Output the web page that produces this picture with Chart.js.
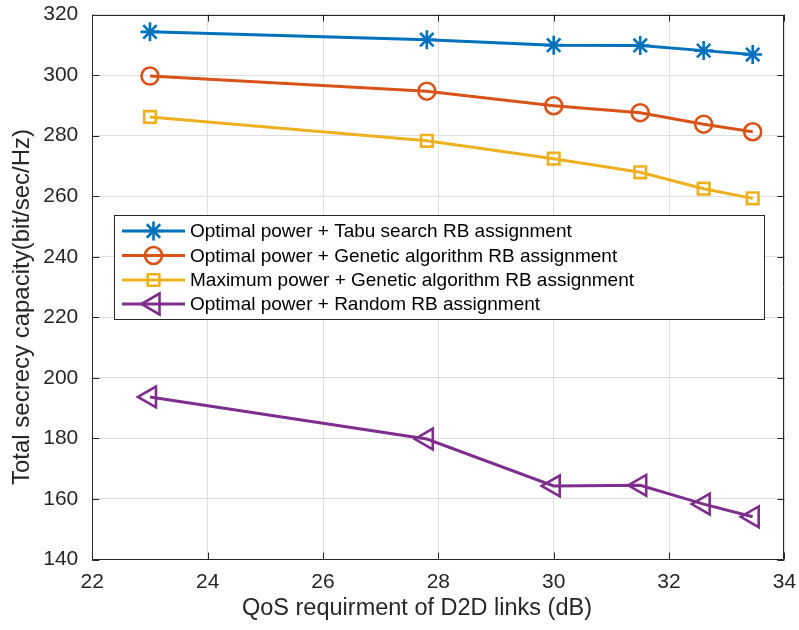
<!DOCTYPE html>
<html>
<head>
<meta charset="utf-8">
<script src="https://cdn.jsdelivr.net/npm/chart.js@4/dist/chart.umd.min.js"></script>
<style>
  html, body { margin: 0; padding: 0; background: #fff; }
  #secrecyChart { display: block; }
</style>
</head>
<body>
<canvas id="secrecyChart" width="799" height="630"></canvas>
<script>
// QoS requirement of the D2D links (dB)
var qosLevels = [23, 27.8, 30, 31.5, 32.6, 33.45];

// total secrecy capacity (bit/sec/Hz) for each scheme
var tabuOptimal    = [314.3, 311.7, 309.9, 309.8, 308.1, 306.8];
var geneticOptimal = [299.7, 294.7, 289.9, 287.6, 283.8, 281.3];
var geneticMaxPow  = [286.2, 278.3, 272.4, 267.9, 262.5, 259.3];
var randomOptimal  = [193.7, 179.8, 164.3, 164.5, 158.3, 154.1];

var seriesLabels = [
    'Optimal power + Tabu search RB assignment',
    'Optimal power + Genetic algorithm RB assignment',
    'Maximum power + Genetic algorithm RB assignment',
    'Optimal power + Random RB assignment'
];

var xTicks = [22, 24, 26, 28, 30, 32, 34];
var yTicks = [140, 160, 180, 200, 220, 240, 260, 280, 300, 320];

var axisColor = '#262626';
var gridColor = '#dfdfdf';
var fontFamily = '"Liberation Sans", Arial, Helvetica, sans-serif';

function toPoints(ys){
    var pts = [];
    for(var i=0; i<qosLevels.length; i++){
        pts.push({x:qosLevels[i], y:ys[i]});
    }
    return pts;
}

function makeSet(label, ys, color, style, radius, rotation){
    return {
        label:label,
        data:toPoints(ys),
        borderColor:color,
        backgroundColor:color,
        borderWidth:3,
        pointStyle:style,
        pointRadius:radius,
        pointHoverRadius:radius,
        pointRotation:rotation || 0,
        pointBorderColor:color,
        pointBackgroundColor:'rgba(0,0,0,0)',
        pointBorderWidth:2.6,
        tension:0
    };
}

var datasets = [
    makeSet(seriesLabels[0], tabuOptimal,    '#0072BD', 'star',     9.5),
    makeSet(seriesLabels[1], geneticOptimal, '#D95319', 'circle',   8.5),
    makeSet(seriesLabels[2], geneticMaxPow,  '#EDB120', 'rect',     8.2),
    makeSet(seriesLabels[3], randomOptimal,  '#7E2F8E', 'triangle', 12, -90)
];

// box round the axes, inward ticks, axis labels and the legend panel
var frameAndLegend = {
    id:'frameAndLegend',
    afterDraw:function(chart){
        var ctx = chart.ctx;
        var a = chart.chartArea;
        var xs = chart.scales.x, ys = chart.scales.y;
        var tick = 7;
        ctx.save();
        ctx.strokeStyle = axisColor;
        ctx.lineWidth = 1;
        ctx.beginPath();
        ctx.rect(Math.round(a.left) + 0.5, Math.round(a.top) + 0.5,
                 Math.round(a.right - a.left) - 1, Math.round(a.bottom - a.top) - 1);
        xTicks.forEach(function(v){
            var px = Math.round(xs.getPixelForValue(v)) + 0.5;
            ctx.moveTo(px, a.bottom); ctx.lineTo(px, a.bottom - tick);
            ctx.moveTo(px, a.top); ctx.lineTo(px, a.top + tick);
        });
        yTicks.forEach(function(v){
            var py = Math.round(ys.getPixelForValue(v)) + 0.5;
            ctx.moveTo(a.left, py); ctx.lineTo(a.left + tick, py);
            ctx.moveTo(a.right, py); ctx.lineTo(a.right - tick, py);
        });
        ctx.stroke();

        // axis labels
        ctx.fillStyle = axisColor;
        ctx.textAlign = 'center';
        ctx.textBaseline = 'middle';
        ctx.font = '23.5px ' + fontFamily;
        ctx.fillText('QoS requirment of D2D links (dB)', 417, 609);
        ctx.save();
        ctx.translate(22, 307);
        ctx.rotate(-Math.PI / 2);
        ctx.font = '24px ' + fontFamily;
        ctx.fillText('Total secrecy capacity(bit/sec/Hz)', 0, 0);
        ctx.restore();

        // legend
        var box = {left:114.5, top:215.5, right:764.5, bottom:319.5};
        ctx.fillStyle = '#fff';
        ctx.fillRect(box.left, box.top, box.right - box.left, box.bottom - box.top);
        ctx.strokeStyle = axisColor;
        ctx.lineWidth = 1;
        ctx.strokeRect(box.left, box.top, box.right - box.left, box.bottom - box.top);
        var rowY = [231, 255.5, 280, 304];
        ctx.font = '19px ' + fontFamily;
        ctx.textAlign = 'left';
        chart.data.datasets.forEach(function(ds, i){
            var y = rowY[i];
            ctx.strokeStyle = ds.borderColor;
            ctx.lineWidth = ds.borderWidth;
            ctx.beginPath();
            ctx.moveTo(122, y); ctx.lineTo(185, y);
            ctx.stroke();
            ctx.lineWidth = ds.pointBorderWidth;
            ctx.fillStyle = 'rgba(0,0,0,0)';
            Chart.helpers.drawPoint(ctx, {
                pointStyle:ds.pointStyle,
                radius:ds.pointRadius,
                rotation:ds.pointRotation,
                borderWidth:ds.pointBorderWidth
            }, 153.5, y);
            ctx.fillStyle = '#000';
            ctx.fillText(ds.label, 190, y + 1);
        });
        ctx.restore();
    }
};

var secrecyChart = new Chart(document.getElementById('secrecyChart'), {
    type:'line',
    data:{ datasets:datasets },
    plugins:[frameAndLegend],
    options:{
        responsive:false,
        animation:false,
        layout:{ padding:{ top:11, right:13, left:0, bottom:0 } },
        plugins:{ legend:{ display:false }, tooltip:{ enabled:false } },
        scales:{
            x:{
                type:'linear',
                min:22, max:34,
                afterFit:function(scale){
                    scale.height = 70.5;
                    scale.paddingLeft = 0;
                    scale.paddingRight = 0;
                },
                afterBuildTicks:function(scale){
                    scale.ticks = xTicks.map(function(v){ return {value:v}; });
                },
                grid:{ color:gridColor, drawTicks:false },
                border:{ display:false },
                ticks:{
                    color:axisColor, padding:10, maxRotation:0,
                    font:{ family:fontFamily, size:21 }
                }
            },
            y:{
                min:140, max:320,
                afterFit:function(scale){
                    scale.width = 92.3;
                    scale.paddingTop = 0;
                    scale.paddingBottom = 0;
                },
                afterBuildTicks:function(scale){
                    scale.ticks = yTicks.map(function(v){ return {value:v}; });
                },
                grid:{ color:gridColor, drawTicks:false },
                border:{ display:false },
                ticks:{
                    color:axisColor, padding:14,
                    font:{ family:fontFamily, size:21 }
                }
            }
        }
    }
});
</script>
</body>
</html>
